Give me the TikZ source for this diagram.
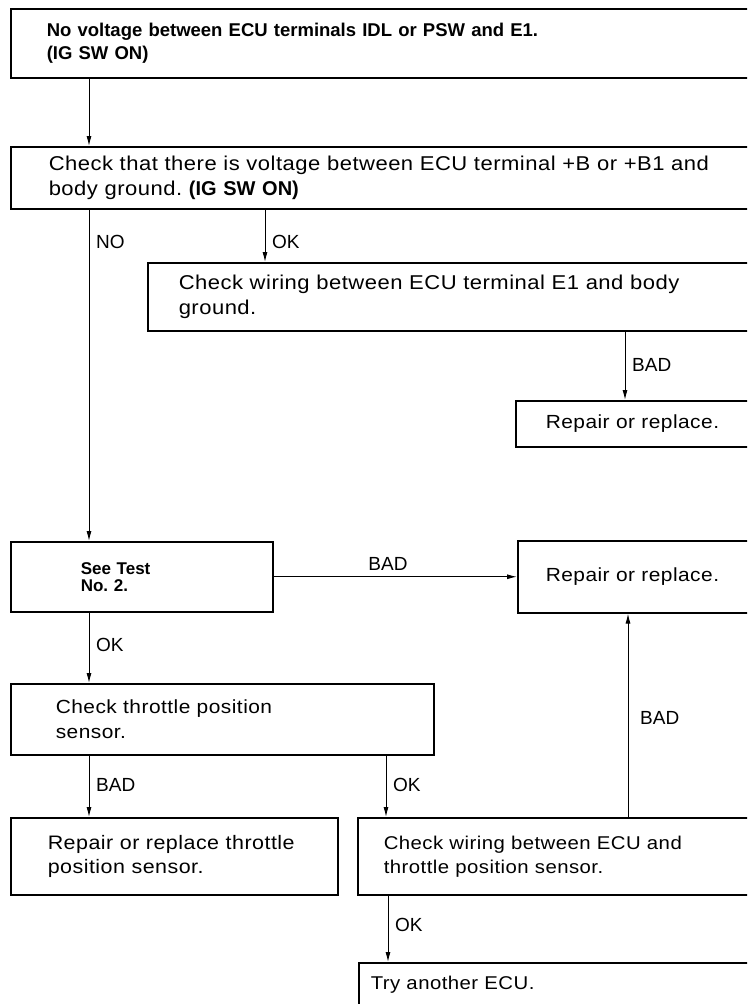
\documentclass[tikz,border=0pt]{standalone}
\usepackage{fontspec}
\setmainfont{Liberation Sans}[FakeStretch=1.1, LetterSpace=2.5]
\newfontfamily\plainfont{Liberation Sans}
\usetikzlibrary{arrows.meta}
\frenchspacing
\tikzset{
  box/.style={draw, line width=1.5pt, anchor=north west, align=left, inner ysep=0pt,
    font=\fontsize{19}{24.5}\selectfont},
  arr/.style={line width=1pt, -{Latex[length=10pt,width=5pt]}},
  lbl/.style={anchor=west, inner sep=0pt, font=\plainfont\fontsize{19}{24}\selectfont}
}
\begin{document}
\begin{tikzpicture}[x=1pt,y=-1pt]
\path[use as bounding box, clip] (0,0) rectangle (747,1004);
% boxes
\node[box, minimum height=69pt, text width=690pt, inner xsep=36pt, font=\plainfont\fontsize{18.5}{23}\selectfont\bfseries] (n1) at (10,8)
  {No voltage between ECU terminals IDL or PSW and E1.\\(IG SW ON)};
\node[box, minimum height=62pt, text width=690pt, inner xsep=38pt, font=\fontsize{20}{25}\selectfont] (n2) at (10,146)
  {Check that there is voltage between ECU terminal +B or +B1 and\\body ground. {\plainfont\bfseries (IG SW ON)}};
\node[box, minimum height=68pt, text width=580pt, inner xsep=31pt, font=\fontsize{20}{25}\selectfont] (n3) at (147,262)
  {Check wiring between ECU terminal E1 and body\\ground.};
\node[box, minimum height=46pt, text width=250pt, inner xsep=30pt] (n4) at (515,400)
  {Repair or replace.};
\node[box, minimum height=70pt, text width=122pt, inner xsep=70pt, font=\plainfont\fontsize{17}{17}\selectfont\bfseries] (n5) at (10,541)
  {See Test\\No. 2.};
\node[box, minimum height=72pt, text width=250pt, inner xsep=28pt] (n6) at (517,540)
  {Repair or replace.};
\node[box, minimum height=71pt, text width=333pt, inner xsep=45pt] (n7) at (10,683)
  {Check throttle position\\sensor.};
\node[box, minimum height=77pt, text width=253pt, inner xsep=37pt, font=\fontsize{19.5}{24}\selectfont] (n8) at (10,817)
  {Repair or replace throttle\\position sensor.};
\node[box, minimum height=77pt, text width=400pt, inner xsep=26pt, font=\fontsize{18.5}{24}\selectfont] (n9) at (357,817)
  {Check wiring between ECU and\\throttle position sensor.};
\node[box, minimum height=44pt, text width=400pt, inner xsep=12pt, font=\fontsize{18.5}{24}\selectfont] (n10) at (358,962)
  {Try another ECU.};
% helper x positions
\coordinate (xa) at (89,0);
\coordinate (xb) at (265,0);
\coordinate (xc) at (625,0);
\coordinate (xd) at (386,0);
\coordinate (xe) at (628,0);
\coordinate (xf) at (388,0);
% connectors
\draw[arr] (n1.south -| xa) -- (n2.north -| xa);
\draw[arr] (n2.south -| xa) -- (n5.north -| xa);
\draw[arr] (n2.south -| xb) -- (n3.north -| xb);
\draw[arr] (n3.south -| xc) -- (n4.north -| xc);
\draw[arr] (n5.east) -- (n5.east -| n6.west);
\draw[arr] (n5.south -| xa) -- (n7.north -| xa);
\draw[arr] (n7.south -| xa) -- (n8.north -| xa);
\draw[arr] (n7.south -| xd) -- (n9.north -| xd);
\draw[arr] (n9.north -| xe) -- (n6.south -| xe);
\draw[arr] (n9.south -| xf) -- (n10.north -| xf);
% labels
\node[lbl] (lno) at (96,242) {NO};
\node[lbl] (lok1) at (272,242) {OK};
\node[lbl] (lbad1) at (632,365) {BAD};
\node[lbl, anchor=center] (lbad2) at (388,564) {BAD};
\node[lbl] (lok2) at (96,645) {OK};
\node[lbl] (lbad3) at (96,785) {BAD};
\node[lbl] (lok3) at (393,785) {OK};
\node[lbl] (lbad4) at (640,718) {BAD};
\node[lbl] (lok4) at (395,925) {OK};
\end{tikzpicture}
\end{document}
